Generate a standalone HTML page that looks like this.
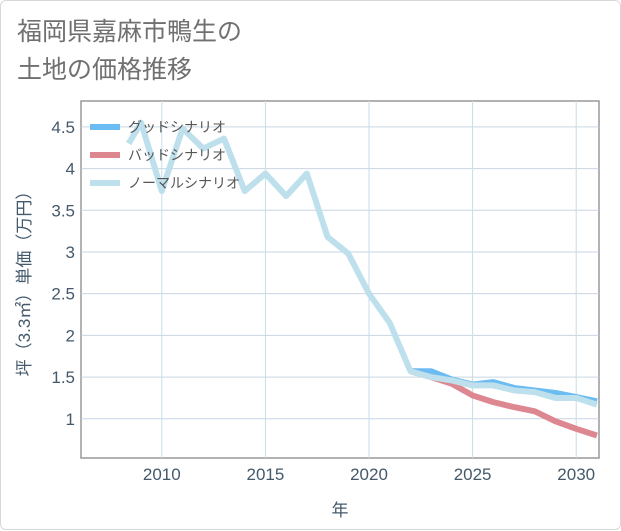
<!DOCTYPE html>
<html><head><meta charset="utf-8"><style>
body{margin:0;background:#fff;font-family:"Liberation Sans","Noto Sans CJK JP",sans-serif;}
#wrap{position:relative;width:619px;height:528px;border:1px solid #d8d8d8;border-radius:6px;background:#fff;}
#title{position:absolute;left:16px;top:12px;font-size:25px;line-height:38px;color:#707070;}
svg{position:absolute;left:0;top:0;}
</style></head><body>
<div id="wrap">
<div id="title">福岡県嘉麻市鴨生の<br>土地の価格推移</div>
<svg id="chart" width="621" height="530"></svg>
</div>
<script>
const years=[2008.4,2009,2010,2011,2012,2013,2014,2015,2016,2017,2018,2019,2020,2021,2022,2023,2024,2025,2026,2027,2028,2029,2030,2031];
const normal=[4.3,4.55,3.73,4.48,4.24,4.36,3.73,3.94,3.67,3.94,3.18,2.98,2.5,2.15,1.57,1.5,1.46,1.4,1.4,1.34,1.32,1.25,1.25,1.17];
const fYears=[2022,2023,2024,2025,2026,2027,2028,2029,2030,2031];
const good=[1.57,1.57,1.47,1.41,1.44,1.37,1.34,1.31,1.26,1.21];
const bad=[1.57,1.5,1.42,1.28,1.2,1.14,1.09,0.97,0.88,0.8];
const xTicks=[2010,2015,2020,2025,2030];
const yTicks=[1,1.5,2,2.5,3,3.5,4,4.5];
const yTickLabels=["1","1.5","2","2.5","3","3.5","4","4.5"];
const L=80,R=598,T=100,B=457,x0=2006.1,x1=2031.1,y0=0.53,y1=4.81;
const X=v=>L+(v-x0)/(x1-x0)*(R-L);
const Y=v=>B-(v-y0)/(y1-y0)*(B-T);
const svg=document.getElementById('chart');
const NS='http://www.w3.org/2000/svg';
function mk(t,a){const e=document.createElementNS(NS,t);for(const k in a)e.setAttribute(k,a[k]);svg.appendChild(e);return e;}
let e=mk('rect',{x:L,y:T,width:R-L,height:B-T,fill:'none',stroke:'#999','stroke-width':1.5});


yTicks.forEach((v,i)=>{
 let g=mk('line',{x1:L,x2:R,y1:Y(v),y2:Y(v),stroke:'#c7d6e3','stroke-width':1});
 
 
 let t=mk('text',{x:L-6,y:Y(v)+6,'text-anchor':'end','font-size':17,fill:'#44596b'});
 t.textContent=yTickLabels[i];
 
 
});
xTicks.forEach(v=>{
 let g=mk('line',{x1:X(v),x2:X(v),y1:T,y2:B,stroke:'#c7dde8','stroke-width':1});
 
 
 let t=mk('text',{x:X(v),y:B+22,'text-anchor':'middle','font-size':17,fill:'#44596b'});
 t.textContent=v;
 
 
});
function line(xs,ys,c,name){
 let p=mk('polyline',{points:xs.map((x,i)=>X(x)+','+Y(ys[i])).join(' '),fill:'none',stroke:c,'stroke-width':6,'stroke-linejoin':'round'});
 
 
}
line(fYears,good,'#6bbcf2','good-scenario-line');
line(fYears,bad,'#dd8890','bad-scenario-line');
line(years,normal,'#bde0ec','normal-scenario-line');
const leg=[['グッドシナリオ','#6bbcf2'],['バッドシナリオ','#dd8890'],['ノーマルシナリオ','#bde0ec']];
leg.forEach((l,i)=>{
 let y=126+i*28;
 let r=mk('rect',{x:89,y:y-3,width:30,height:6,fill:l[1]});
 
 
 let t=mk('text',{x:127,y:y+5,'font-size':14,fill:'#555'});
 t.textContent=l[0];
 
 
});
let xt=mk('text',{x:(L+R)/2,y:515,'text-anchor':'middle','font-size':17,fill:'#44596b'});
xt.textContent='年';


let yt=mk('text',{x:0,y:0,'text-anchor':'middle','font-size':17,fill:'#44596b',transform:'translate(29,'+((T+B)/2)+') rotate(-90)'});
yt.textContent='坪（3.3㎡）単価（万円）';


</script>
</body></html>
